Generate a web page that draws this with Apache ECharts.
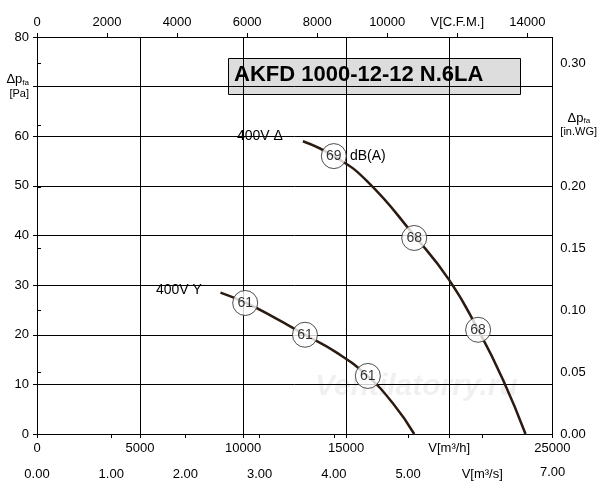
<!DOCTYPE html>
<html><head><meta charset="utf-8">
<script src="https://cdn.jsdelivr.net/npm/echarts@6/dist/echarts.min.js"></script>
<style>html,body{margin:0;background:#fff}#main{width:600px;height:500px}</style>
</head><body><div id="main"></div>
<script>
var chart = echarts.init(document.getElementById('main'));
var font = 'Arial, Liberation Sans, sans-serif';

// 400V Δ and 400V Y curves, V [m3/h] vs dp [Pa]
var delta = [[12900,59],[14400,56],[16000,51],[18300,40],[20000,31],[21400,21],[22600,11],[23700,0]];
var star = [[8900,28.5],[10100,26.5],[11500,23.5],[13000,20],[14500,16.5],[16000,11.8],[17300,6],[18300,0]];
var marks = [[14400,56,'69'],[18300,39.5,'68'],[21400,21,'68'],[10100,26.4,'61'],[13000,20,'61'],[16050,11.7,'61']];

var M3H = 25000, PA = 80;
var lbl = {color:'#000', fontSize:13, fontFamily:font};
var rich = {s:{fontSize:8, verticalAlign:'bottom', color:'#000'}, n:{fontSize:13,color:'#000'}, u:{fontSize:11,color:'#000'}};

var option = {
  animation:false,
  grid:{left:37, right:47, top:37, bottom:66},
  xAxis:[
    {type:'value', min:0, max:M3H, interval:5000, position:'bottom',
     axisLine:{lineStyle:{color:'#000'}}, axisTick:{show:true, length:4, lineStyle:{color:'#000'}},
     splitLine:{lineStyle:{color:'#000', width:1}},
     axisLabel:Object.assign({}, lbl, {formatter:function(v){return v===20000?'V[m³/h]':v;}})},
    {type:'value', min:0, max:M3H/3600, interval:1, position:'bottom', offset:26,
     axisLine:{lineStyle:{color:'#000'}}, axisTick:{length:4, lineStyle:{color:'#000'}}, splitLine:{show:false},
     axisLabel:Object.assign({}, lbl, {showMaxLabel:false, formatter:function(v){return Math.abs(v-6)<1e-6?'V[m³/s]':v.toFixed(2);}})},
    {type:'value', min:0, max:M3H/1.699, interval:2000, position:'top',
     axisLine:{lineStyle:{color:'#000'}}, axisTick:{length:4, lineStyle:{color:'#000'}}, splitLine:{show:false},
     axisLabel:Object.assign({}, lbl, {showMaxLabel:false, formatter:function(v){return v===12000?'V[C.F.M.]':v;}})}
  ],
  yAxis:[
    {type:'value', min:0, max:PA, interval:10, position:'left',
     axisLine:{show:true, lineStyle:{color:'#000'}}, axisTick:{show:true, length:4, lineStyle:{color:'#000'}},
     splitLine:{lineStyle:{color:'#000'}},
     axisLabel:Object.assign({}, lbl, {rich:rich, lineHeight:14, formatter:function(v){return v===70?'{n|Δp}{s|fa}\n{u|[Pa]}':v;}})},
    {type:'value', min:0, max:PA/249.09, interval:0.05, position:'right',
     axisLine:{show:true, lineStyle:{color:'#000'}}, axisTick:{show:true, length:4, lineStyle:{color:'#000'}},
     splitLine:{show:false},
     axisLabel:Object.assign({}, lbl, {showMaxLabel:false, rich:rich, lineHeight:14, formatter:function(v){return Math.abs(v-0.25)<1e-6?'{n|  Δp}{s|fa}\n{u|[in.WG]}':v.toFixed(2);}})}
  ],
  series:[
    {type:'line', data:delta, smooth:true, symbol:'none', lineStyle:{color:'#2b1a10', width:2.5}},
    {type:'line', data:star, smooth:true, symbol:'none', lineStyle:{color:'#2b1a10', width:2.5}},
    {type:'scatter', data:marks, symbol:'circle', symbolSize:25, z:5,
     itemStyle:{color:'#fff', borderColor:'#222', borderWidth:1},
     label:{show:true, position:'inside', color:'#000', fontSize:14, fontFamily:font, formatter:function(p){return p.data[2];}}}
  ],
  graphic:[
    {type:'text', left:237, top:129, style:{text:'400V Δ', font:'14px '+font, fill:'#000'}},
    {type:'text', left:350, top:149, style:{text:'dB(A)', font:'14px '+font, fill:'#000'}},
    {type:'text', left:156, top:283, style:{text:'400V Y', font:'14px '+font, fill:'#000'}},
    {type:'text', left:540, top:466, style:{text:'7.00', font:'13px '+font, fill:'#000'}},
    {type:'rect', left:228, top:58, shape:{width:292, height:36}, style:{fill:'#ddd', stroke:'#000', lineWidth:1}},
    {type:'text', left:234, top:64, style:{text:'AKFD 1000-12-12 N.6LA', font:'bold 22px '+font, fill:'#000'}, z:10},
    {type:'text', left:315, top:372, style:{text:'Ventilatorry.ru', font:'italic bold 30px '+font, fill:'rgba(0,0,0,0.06)'}}
  ]
};
chart.setOption(option);
</script></body></html>
